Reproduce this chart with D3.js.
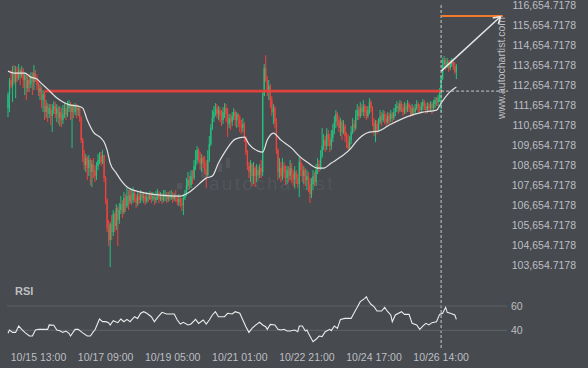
<!DOCTYPE html>
<html><head><meta charset="utf-8">
<script src="https://cdn.jsdelivr.net/npm/d3@7"></script>
<style>html,body{margin:0;padding:0;background:#474a4f;}svg{display:block;}</style>
</head><body><svg id="c" width="588" height="368"></svg>
<script>
// ---------- DATA (hourly candles, 10/14 17:00 -> 10/27 00:00) ----------
const firstOpen = 111500;
const closes = [
112150,112900,112600,113200,112800,113300,113000,113400,113100,113350,
112900,113150,112500,112900,112700,113100,112800,113250,113000,112650,
112300,112500,111900,112200,111300,111600,111200,111500,111100,111400,
111600,111200,111500,111000,111300,110900,111200,111500,111150,111500,
111700,111300,111600,111300,111600,111400,111500,111000,109900,109100,
108650,109000,108500,108900,108300,108700,108400,108100,108600,108900,
109100,108800,109150,108000,106900,105500,104900,105700,105300,106200,
105600,106500,105900,106400,106700,106300,107000,106600,107100,106800,
107150,106900,107250,107000,106750,107100,106900,107200,107000,107100,
106850,107050,106950,107150,106950,107100,106900,107050,107250,106950,
107100,106900,107050,107150,106950,107100,107000,107150,106950,107100,
107000,106800,106950,106700,106650,107000,107200,107600,107900,107650,
108100,108000,108600,108900,109400,109000,108700,109000,108800,108400,
108150,108900,109700,110500,111000,111300,111500,111200,111400,111100,
110900,111300,111500,111200,110700,111000,110800,111100,111300,110900,
111200,111000,110700,110500,110700,110000,109300,108600,108300,108700,
108100,108500,108100,108400,108150,108500,108300,112100,113500,112900,
112400,112600,111900,111300,111500,110800,109400,108300,108500,108100,
108600,108300,108000,108400,108100,108500,108200,107900,108300,108000,
107700,108800,108400,108100,108400,107900,108100,107700,107200,107700,
108100,107800,108400,108700,108500,109100,109600,109900,109600,110200,
109900,109600,110000,110400,110800,111200,110900,110500,110800,110300,
110600,110100,109800,109500,109900,110300,110700,110500,111100,111400,
111100,111500,111300,111600,111300,111100,111400,111800,111500,110800,
110300,110700,110400,110800,111100,110900,111200,111000,110800,111100,
110950,111200,111000,111300,111500,111600,111400,111700,111500,111300,
111600,111400,111700,111500,111200,111500,111300,111500,111700,111500,
111400,111600,111800,111600,111400,111600,111500,111700,111500,111700,
111900,111800,112000,112300,113000,113700,113900,113600,113800,113500,
113700,113800,113600,113300,113600];
const highs = [
112300,113000,113400,113600,113650,113600,113550,113700,113500,113600,
113500,113300,113200,113100,113200,113300,113300,113650,113400,113200,
112800,112700,112600,112400,112350,111900,111750,111700,111700,111700,
111850,111800,111700,111600,111600,111500,111650,111750,111700,111850,
111900,111800,111700,111700,111750,111700,111650,111600,111100,110000,
109400,109200,109100,109150,109000,108900,109000,108650,108800,109200,
109300,109300,109400,109150,108100,107000,105900,105800,106150,106400,
106300,106700,106600,106750,107100,106900,107300,107200,107500,107400,
107500,107400,107550,107400,107200,107300,107250,107400,107350,107300,
107250,107300,107250,107350,107300,107300,107200,107350,107450,107350,
107300,107250,107400,107400,107300,107300,107350,107400,107300,107250,
107400,107150,107200,107100,107000,107200,107400,108000,108300,108100,
108400,108400,108900,109400,109600,109500,109300,109200,109100,109100,
108900,109400,110100,110700,111400,111600,111750,111700,111600,111550,
111400,111550,111750,111700,111500,111200,111200,111300,111500,111400,
111300,111250,111150,110900,111000,110800,110100,109400,108800,108900,
108750,108800,108600,108700,108600,108700,108900,112300,113700,114150,
113100,112900,112700,112100,111700,111600,111000,109500,109000,108800,
109000,108800,108650,108600,108600,108900,108750,108400,108600,108400,
108200,109050,109000,108700,108600,108500,108400,108300,108000,108000,
108400,108300,108700,109000,108900,109400,110500,110200,110100,110500,
110400,110200,110400,110700,111100,111400,111300,111100,111000,110900,
110900,110700,110300,110200,110100,110600,111000,110900,111400,111700,
111600,111800,111700,111900,111700,111600,111600,112000,111900,111600,
111000,110900,110900,111000,111400,111300,111400,111350,111200,111300,
111250,111400,111300,111500,111700,111850,111750,111900,111850,111700,
111800,111750,111900,111800,111650,111700,111600,111700,111900,111800,
111700,111800,111950,111900,111750,111800,111750,111850,111800,111900,
112050,112050,112150,112500,113100,114000,114100,114000,114000,113900,
113900,114000,113900,113800,113700];
const lows = [
111050,111300,112500,111800,112700,112000,112800,112900,112650,113000,
112500,112150,111900,112300,112300,112500,112150,112400,112800,112400,
112100,111900,111500,111300,110900,111000,110800,111000,110650,110300,
111200,111000,110800,110700,110600,110550,110700,111000,110900,111050,
111300,110900,109500,111000,111150,111000,111100,110800,109750,108800,
108400,108300,107900,108100,107650,107550,108000,107800,107900,108400,
108700,108600,108700,107800,106700,105300,104600,103550,104900,105100,
105300,105400,104600,105700,106200,106000,106200,106300,106500,106400,
106700,106650,106750,106800,106500,106600,106700,106750,106850,106750,
106650,106750,106800,106900,106750,106850,106650,106750,106900,106750,
106850,106700,106800,106850,106750,106800,106850,106900,106750,106850,
106800,106650,106600,106550,106350,106150,106900,107100,107400,107450,
107500,107700,107900,108400,108700,108800,108400,108300,108500,108200,
107500,108000,108800,109600,110400,110800,111100,111000,110900,110800,
110600,110700,111000,110800,110050,110500,110400,110600,110900,110600,
110500,110550,110300,110200,110300,109800,109150,108400,108000,107800,
107600,107700,107550,107800,107900,108000,108000,108100,112100,112800,
112100,111900,111500,111100,110700,110500,109200,107900,108000,107800,
107900,108000,107650,107700,107800,107900,107750,107600,107500,107700,
107500,107050,108100,107800,107700,107600,107400,107300,106750,107000,
107400,107600,107600,108200,108300,108400,109000,109400,109300,109400,
109600,109300,109400,109800,110200,110500,110600,110300,110100,109900,
110200,109800,109500,109400,109400,109700,110200,110300,110400,110900,
110900,111000,111100,111100,111000,110900,111000,111200,111300,110600,
110100,109800,110200,110300,110700,110600,110800,110700,110550,110700,
110700,110800,110800,110900,111100,111300,111200,111300,111300,111100,
111200,111200,111300,111300,111050,111100,111100,111200,111400,111300,
111200,111300,111400,111400,111200,111250,111300,111300,111200,111400,
111500,111600,111600,111800,111300,112900,113500,113400,113500,113300,
113400,113550,113400,113200,112950];

// moving average readings [candle index, price]
const maPoints = [[0,113350],[4,113250],[11,113250],[15,113050],[19,112950],[21,112800],[26,112450],[30,112150],[33,111950],[36,111800],[41,111650],[46,111600],[49,111500],[52,110900],[56,110300],[61,110000],[63,109800],[65,109400],[67,108750],[71,108250],[74,107900],[79,107500],[87,107300],[100,107150],[113,107100],[118,107250],[123,107550],[130,108000],[134,108100],[138,108750],[143,109400],[149,109950],[155,110050],[158,109700],[164,109350],[167,109300],[170,109900],[174,110250],[179,109900],[186,109500],[191,109100],[197,108750],[203,108500],[207,108500],[212,108750],[218,109050],[225,109500],[228,109800],[237,110300],[243,110350],[250,110650],[261,111050],[272,111300],[281,111400],[284,111750],[289,112250],[294,112550]];

// RSI readings [candle index, value]
const rsiPoints = [[0,37.5],[1,40.2],[3,38.3],[5,38.3],[7,43.5],[9,40.8],[11,38.3],[14,35.3],[16,35.3],[18,40.2],[20,40.8],[26,40.8],[27,44.4],[30,44.1],[32,40.2],[34,39.7],[36,38.3],[38,39.4],[40,37.5],[41,35.3],[44,40.8],[46,40.8],[49,37.9],[52,35.3],[54,35.3],[56,38.9],[57,40.2],[60,49.3],[62,47.1],[64,47.1],[66,46.3],[67,44.4],[69,47.9],[72,46.3],[74,49.3],[76,47.1],[78,49.0],[80,47.1],[83,51.2],[85,49.8],[87,54.0],[89,55.3],[91,54.0],[94,51.2],[96,47.1],[98,50.4],[101,54.8],[104,53.4],[109,53.4],[111,48.5],[113,45.2],[115,46.6],[118,44.4],[120,45.2],[123,49.0],[125,45.7],[128,48.5],[130,45.2],[132,48.5],[134,52.6],[136,55.3],[138,51.2],[142,51.2],[144,54.0],[147,53.4],[149,55.3],[152,54.0],[154,48.5],[156,43.0],[158,38.3],[160,41.6],[163,44.9],[165,46.6],[167,44.4],[169,43.0],[170,40.8],[172,44.9],[175,44.4],[177,40.8],[179,40.2],[181,40.8],[183,39.4],[185,39.4],[188,40.2],[190,38.9],[191,43.5],[193,43.5],[195,39.4],[196,40.2],[197,37.5],[200,30.6],[202,32.6],[204,35.3],[206,34.8],[208,38.9],[211,40.8],[212,39.7],[214,43.5],[216,41.6],[218,49.0],[221,49.8],[225,49.8],[227,54.5],[229,58.9],[231,63.6],[234,66.3],[235,67.7],[236,64.9],[238,61.4],[240,59.5],[242,55.9],[245,55.9],[247,58.9],[249,55.3],[251,52.6],[252,47.1],[254,52.6],[258,55.3],[260,53.1],[263,53.1],[265,45.7],[268,44.4],[270,40.8],[272,43.5],[274,45.7],[276,44.4],[278,46.3],[281,47.1],[283,53.1],[285,54.0],[287,58.9],[288,54.8],[290,54.0],[293,52.6],[294,49.0]];

const priceTicks = [103654.7178,104654.7178,105654.7178,106654.7178,107654.7178,108654.7178,109654.7178,110654.7178,111654.7178,112654.7178,113654.7178,114654.7178,115654.7178,116654.7178];
const rsiTicks = [40, 60];
const xTickIndex = [20, 64, 108, 152, 196, 240, 284];
const xTickLabels = ["10/15 13:00","10/17 09:00","10/19 05:00","10/21 01:00","10/22 21:00","10/24 17:00","10/26 14:00"];

const resistanceLevel = 112350;
const resistanceStart = 24;
const breakoutIndex = 284;
const targetLevel = 116100;
const targetEndIndex = 324.5;
const arrowFrom = [284, 113350];
const arrowTo = [323, 116080];
const dashedEndIndex = 328;

// ---------- DRAWING ----------
const W = 588, H = 368;
const BG = "#474a4f", TXT = "#bdbfc2", UP = "#22c37f", DN = "#f3423c";
const svg = d3.select("#c");
svg.append("rect").attr("width", W).attr("height", H).attr("fill", BG);

const x = d3.scaleLinear().domain([0, 294]).range([8, 456.35]);
const y = d3.scaleLinear().domain([103654.7178, 116654.7178]).range([265, 5]);
const ry = d3.scaleLinear().domain([40, 60]).range([330.3, 306]);

// watermark
const wm = svg.append("g").attr("fill", "#ffffff").attr("fill-opacity", 0.07);
[[177,183,5,6],[189,172,4,9],[201,168,5,10],[218,163,4,9],[226,158,4,10]].forEach(r =>
  wm.append("rect").attr("x", r[0]).attr("y", r[1]).attr("width", r[2]).attr("height", r[3]));
wm.append("text").attr("x", 209).attr("y", 190).attr("font-family", "Liberation Sans, Arial, sans-serif")
  .attr("font-size", 19).attr("letter-spacing", 2.3).text("autochartist");

// candles
const opens = closes.map((c, i) => i === 0 ? firstOpen : closes[i - 1]);
const candles = closes.map((c, i) => ({i, o: opens[i], h: highs[i], l: lows[i], c}));
const cg = svg.append("g");
cg.selectAll("line.w").data(candles).join("line").attr("class", "w")
  .attr("x1", d => x(d.i)).attr("x2", d => x(d.i))
  .attr("y1", d => y(d.h)).attr("y2", d => y(d.l))
  .attr("stroke", d => d.c >= d.o ? UP : DN).attr("stroke-width", 1);
cg.selectAll("rect.b").data(candles).join("rect").attr("class", "b")
  .attr("x", d => x(d.i) - 0.65).attr("width", 1.3)
  .attr("y", d => y(Math.max(d.o, d.c)))
  .attr("height", d => Math.max(1, Math.abs(y(d.o) - y(d.c))))
  .attr("fill", d => d.c >= d.o ? UP : DN);

// resistance line
svg.append("line").attr("x1", x(resistanceStart)).attr("x2", x(breakoutIndex))
  .attr("y1", y(resistanceLevel)).attr("y2", y(resistanceLevel))
  .attr("stroke", "#e8413c").attr("stroke-width", 2.6).attr("stroke-opacity", 0.95);

// moving average
svg.append("path").datum(maPoints)
  .attr("d", d3.line().x(d => x(d[0])).y(d => y(d[1])).curve(d3.curveMonotoneX))
  .attr("fill", "none").attr("stroke", "#e2e2e2").attr("stroke-width", 1.2);

// price axis labels
const fmt = d3.format(",.4f");
svg.append("g").selectAll("text").data(priceTicks).join("text")
  .attr("x", 576).attr("y", d => y(d)).attr("dy", "0.35em").attr("text-anchor", "end")
  .attr("font-family", "Liberation Sans, Arial, sans-serif").attr("font-size", 10.5)
  .attr("fill", TXT).text(d => fmt(d));

// vertical watermark
svg.append("text").attr("transform", "translate(505,68) rotate(-90)").attr("text-anchor", "middle")
  .attr("font-family", "Liberation Sans, Arial, sans-serif").attr("font-size", 10.5)
  .attr("fill", TXT).text("www.autochartist.com");

// breakout markers
svg.append("line").attr("x1", x(breakoutIndex)).attr("x2", x(breakoutIndex)).attr("y1", 5).attr("y2", 350)
  .attr("stroke", "#c8c8c8").attr("stroke-width", 1).attr("stroke-dasharray", "3,2");
svg.append("line").attr("x1", x(breakoutIndex)).attr("x2", x(dashedEndIndex))
  .attr("y1", y(resistanceLevel)).attr("y2", y(resistanceLevel))
  .attr("stroke", "#c8c8c8").attr("stroke-width", 1).attr("stroke-dasharray", "3,2");
svg.append("line").attr("x1", x(breakoutIndex)).attr("x2", x(targetEndIndex))
  .attr("y1", y(targetLevel)).attr("y2", y(targetLevel))
  .attr("stroke", "#f27a2e").attr("stroke-width", 2);
const ax1 = x(arrowFrom[0]), ay1 = y(arrowFrom[1]), ax2 = x(arrowTo[0]), ay2 = y(arrowTo[1]);
svg.append("line").attr("x1", ax1).attr("y1", ay1).attr("x2", ax2).attr("y2", ay2)
  .attr("stroke", "#e6e6e6").attr("stroke-width", 1.5);
const ang = Math.atan2(ay2 - ay1, ax2 - ax1), hl = 8;
[ang + 2.6, ang - 2.6].forEach(a => svg.append("line").attr("x1", ax2).attr("y1", ay2)
  .attr("x2", ax2 + hl * Math.cos(a)).attr("y2", ay2 + hl * Math.sin(a))
  .attr("stroke", "#e6e6e6").attr("stroke-width", 1.5));

// RSI panel
svg.append("text").attr("x", 15).attr("y", 295).attr("font-family", "Liberation Sans, Arial, sans-serif")
  .attr("font-size", 11).attr("font-weight", "bold").attr("fill", TXT).text("RSI");
svg.append("g").selectAll("line").data(rsiTicks).join("line")
  .attr("x1", 7).attr("x2", 507).attr("y1", d => ry(d)).attr("y2", d => ry(d))
  .attr("stroke", "#5f6368").attr("stroke-width", 1);
svg.append("g").selectAll("text").data(rsiTicks).join("text")
  .attr("x", 511).attr("y", d => ry(d)).attr("dy", "0.35em")
  .attr("font-family", "Liberation Sans, Arial, sans-serif").attr("font-size", 10.5)
  .attr("fill", TXT).text(d => d);
svg.append("path").datum(rsiPoints)
  .attr("d", d3.line().x(d => x(d[0])).y(d => ry(d[1])))
  .attr("fill", "none").attr("stroke", "#ececec").attr("stroke-width", 1.1);

// time labels
svg.append("g").selectAll("text").data(xTickIndex).join("text")
  .attr("x", d => x(d)).attr("y", 357).attr("dy", "0.35em").attr("text-anchor", "middle")
  .attr("font-family", "Liberation Sans, Arial, sans-serif").attr("font-size", 10.5)
  .attr("fill", TXT).text((d, k) => xTickLabels[k]);
</script></body></html>
